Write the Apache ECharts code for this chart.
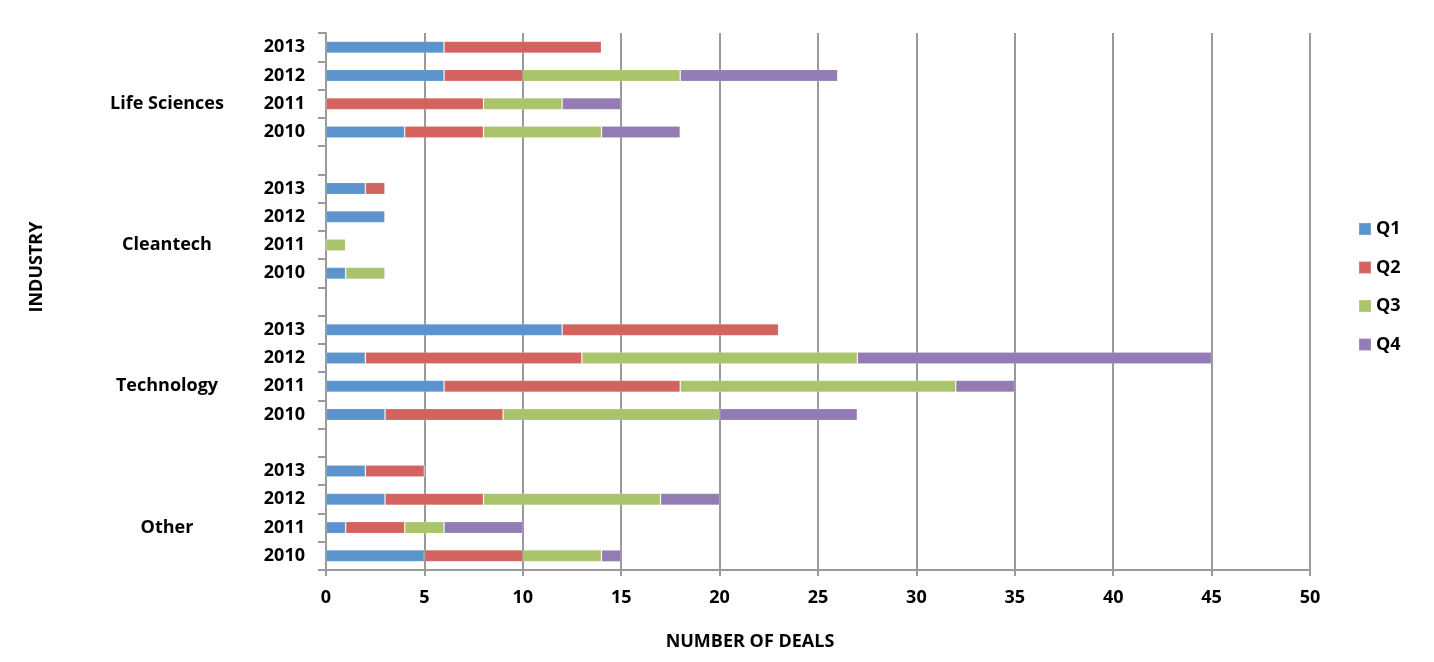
<!DOCTYPE html>
<html>
<head>
<meta charset="utf-8">
<title>Deals by industry</title>
<script src="https://cdn.jsdelivr.net/npm/echarts@6/dist/echarts.min.js"></script>
<style>
  html, body { margin: 0; padding: 0; background: #ffffff; }
  #chart { width: 1434px; height: 662px; }
</style>
</head>
<body>
<div id="chart"></div>
<script>
// Industries listed bottom-to-top, years within each industry bottom-to-top
var industries = ['Other', 'Technology', 'Cleantech', 'Life Sciences'];
var years = ['2010', '2011', '2012', '2013'];
var quarters = ['Q1', 'Q2', 'Q3', 'Q4'];

// Number of deals per quarter, one row per industry, years 2010..2013
var q1 = [
  [5, 1, 3, 2],    // Other
  [3, 6, 2, 12],   // Technology
  [1, 0, 3, 2],    // Cleantech
  [4, 0, 6, 6]     // Life Sciences
];
var q2 = [
  [5, 3, 5, 3],
  [6, 12, 11, 11],
  [0, 0, 0, 1],
  [4, 8, 4, 8]
];
var q3 = [
  [4, 2, 9, 0],
  [11, 14, 14, 0],
  [2, 1, 0, 0],
  [6, 4, 8, 0]
];
var q4 = [
  [1, 4, 3, 0],
  [7, 3, 18, 0],
  [0, 0, 0, 0],
  [4, 3, 8, 0]
];

var xTicks = { min: 0, max: 50, interval: 5 };
var colors = ['#5b94cc', '#d3635e', '#a9c46b', '#927cb3'];
var FONT = 'Open Sans';
var FONT_SIZE = 18;

// Build the category rows: each industry's years, with a blank row between industries
var categories = [];
var rowOf = [];
industries.forEach(function (ind, i) {
  if (i > 0) { categories.push('gap|' + i); rowOf.push(null); }
  years.forEach(function (y, j) {
    categories.push(ind + '|' + y);
    rowOf.push([i, j]);
  });
});

function seriesValues(table) {
  return rowOf.map(function (r) { return r ? table[r[0]][r[1]] : '-'; });
}

var tables = [q1, q2, q3, q4];
var series = quarters.map(function (q, k) {
  return {
    name: q,
    type: 'bar',
    stack: 'deals',
    barWidth: 12,
    data: seriesValues(tables[k]),
    itemStyle: {
      color: colors[k],
      borderColor: 'rgba(255,255,255,0.15)',
      borderWidth: 1
    },
    emphasis: { disabled: true }
  };
});

var labelStyle = { color: '#000', fontFamily: FONT, fontWeight: 'bold', fontSize: FONT_SIZE };
var gridColor = '#9a9a9a';

var chart = echarts.init(document.getElementById('chart'), null, { renderer: 'canvas' });
chart.setOption({
  animation: false,
  backgroundColor: '#ffffff',
  color: colors,
  grid: { left: 326, right: 124, top: 33, bottom: 92 },
  legend: {
    orient: 'vertical',
    left: 1353,
    top: 215,
    itemWidth: 12,
    itemHeight: 12,
    itemGap: 20.5,
    icon: 'rect',
    data: quarters,
    textStyle: { color: '#000', fontFamily: FONT, fontWeight: 'bold', fontSize: FONT_SIZE }
  },
  xAxis: {
    type: 'value',
    min: xTicks.min,
    max: xTicks.max,
    interval: xTicks.interval,
    axisLine: { show: true, lineStyle: { color: gridColor, width: 2 } },
    axisTick: { show: true, length: 6, lineStyle: { color: gridColor, width: 2 } },
    axisLabel: Object.assign({ margin: 19 }, labelStyle),
    splitLine: { show: true, lineStyle: { color: gridColor, width: 2 } }
  },
  yAxis: [
    {
      type: 'category',
      data: categories,
      axisLine: { show: true, lineStyle: { color: gridColor, width: 2 } },
      axisTick: { show: true, length: 8, interval: 0, lineStyle: { color: gridColor, width: 2 } },
      axisLabel: Object.assign({
        margin: 21,
        interval: 0,
        formatter: function (v) { return v.indexOf('gap|') === 0 ? '' : v.split('|')[1]; }
      }, labelStyle),
      splitLine: { show: false }
    },
    {
      type: 'category',
      position: 'left',
      data: categories,
      axisLine: { show: false },
      axisTick: { show: false },
      axisLabel: Object.assign({
        margin: 159,
        interval: 0,
        align: 'center',
        formatter: function (v) {
          var p = v.split('|');
          return (p[0] !== 'gap' && p[1] === '2011') ? p[0] : '';
        }
      }, labelStyle),
      splitLine: { show: false }
    }
  ],
  series: series,
  graphic: [
    {
      type: 'text',
      x: 37,
      y: 267,
      rotation: Math.PI / 2,
      style: {
        text: 'INDUSTRY',
        fill: '#000',
        font: 'bold 18px "Open Sans"',
        textAlign: 'center',
        textVerticalAlign: 'middle'
      }
    },
    {
      type: 'text',
      x: 750,
      y: 642,
      style: {
        text: 'NUMBER OF DEALS',
        fill: '#000',
        font: 'bold 18px "Open Sans"',
        textAlign: 'center',
        textVerticalAlign: 'middle'
      }
    }
  ]
});
</script>
</body>
</html>
